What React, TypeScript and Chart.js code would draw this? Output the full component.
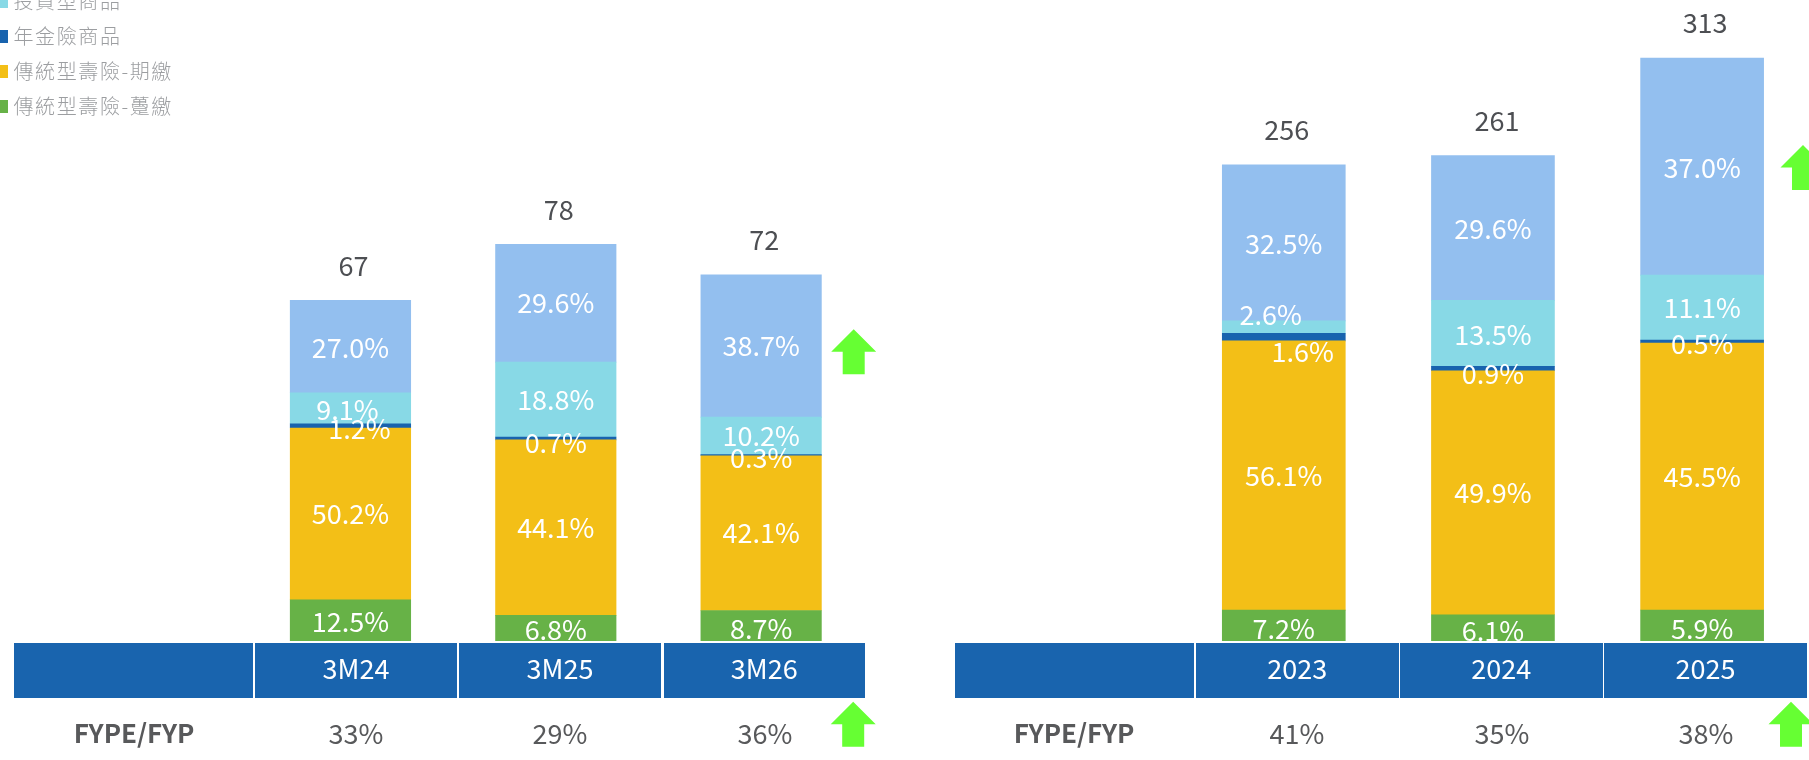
import React, { useEffect, useRef } from "react";
import { Chart, registerables } from "chart.js";

Chart.register(...registerables);

const FONT = '"Noto Sans CJK TC", "Noto Sans", sans-serif';
const CJK = '"Noto Sans CJK TC", sans-serif';

// Series names, bottom of the stack first (the top one's legend row lies above the page).
const seriesNames = ["傳統型壽險-躉繳", "傳統型壽險-期繳", "年金險商品", "投資型商品", "保障型商品"];
const seriesColors = ["#67B247", "#F3BF17", "#1863AE", "#88D9E6", "#93BFEF"];

const quarterLabels = ["3M24", "3M25", "3M26"];
const quarterTotals = [67, 78, 72];
const quarterFype = ["33%", "29%", "36%"];
const quarterSingle = [12.5, 6.8, 8.7];
const quarterRegular = [50.2, 44.1, 42.1];
const quarterAnnuity = [1.2, 0.7, 0.3];
const quarterInvest = [9.1, 18.8, 10.2];
const quarterProtect = [27.0, 29.6, 38.7];

const yearLabels = ["2023", "2024", "2025"];
const yearTotals = [256, 261, 313];
const yearFype = ["41%", "35%", "38%"];
const yearSingle = [7.2, 6.1, 5.9];
const yearRegular = [56.1, 49.9, 45.5];
const yearAnnuity = [1.6, 0.9, 0.5];
const yearInvest = [2.6, 13.5, 11.1];
const yearProtect = [32.5, 29.6, 37.0];

// Hand-placed label nudges [dx, dy] per series, per category.
const quarterNudge = [
  [[0, 1], [0, 1], [0, 2]],
  [[0, 0], [0, 0], [0, 0]],
  [[9, 3], [0, 4], [0, 3]],
  [[-3, 1], [0, 0], [0, 0]],
  [[0, 1], [0, 0], [0, 0]],
];
const yearNudge = [
  [[0, 1], [0, 1], [0, 1]],
  [[0, 0], [0, 0], [0, 0]],
  [[19, 15], [0, 5], [0, 2]],
  [[-13, -12], [0, 1], [0, 0]],
  [[0, 1], [0, 1], [0, 1]],
];

type Side = {
  labels: string[];
  totals: number[];
  series: number[][];
  nudge: number[][][];
  totalDx: number[];
  left: number;
  width: number;
  areaLeft: number;
  areaRight: number;
  base: number;
  yMax: number;
  barWidth: number;
};

const H = 760;

const quarterSide: Side = {
  labels: quarterLabels,
  totals: quarterTotals,
  series: [quarterSingle, quarterRegular, quarterAnnuity, quarterInvest, quarterProtect],
  nudge: quarterNudge,
  totalDx: [3, 3, 3],
  left: 0,
  width: 900,
  areaLeft: 247.8,
  areaRight: 863.8,
  base: 642.5,
  yMax: 125.85,
  barWidth: 120.5,
};
const yearSide: Side = {
  labels: yearLabels,
  totals: yearTotals,
  series: [yearSingle, yearRegular, yearAnnuity, yearInvest, yearProtect],
  nudge: yearNudge,
  totalDx: [3, 4, 3],
  left: 900,
  width: 909,
  areaLeft: 279.2,
  areaRight: 906.7,
  base: 644.6,
  yMax: 344,
  barWidth: 123,
};

function Bars({ side }: { side: Side }) {
  const ref = useRef<HTMLCanvasElement>(null);
  useEffect(() => {
    if (!ref.current) return;
    const labelsPlugin = {
      id: "barText",
      afterDatasetsDraw(chart: any) {
        const { ctx } = chart;
        ctx.save();
        ctx.textAlign = "center";
        ctx.textBaseline = "middle";
        ctx.font = `27px ${FONT}`;
        ctx.fillStyle = "#ffffff";
        side.series.forEach((vals, s) => {
          const meta = chart.getDatasetMeta(s);
          vals.forEach((pct, i) => {
            const el = meta.data[i];
            const [dx, dy] = side.nudge[s][i];
            const cy = (el.y + el.base) / 2;
            ctx.fillText(pct.toFixed(1) + "%", el.x + dx, cy + dy);
          });
        });
        ctx.fillStyle = "#4D4F53";
        const top = chart.getDatasetMeta(side.series.length - 1);
        side.totals.forEach((t, i) => {
          const el = top.data[i];
          ctx.fillText(String(t), el.x + side.totalDx[i], el.y - 35);
        });
        ctx.restore();
      },
    };
    const chart = new Chart(ref.current, {
      type: "bar",
      data: {
        labels: side.labels,
        datasets: side.series.map((vals, s) => ({
          label: seriesNames[s],
          data: vals.map((pct, i) => (pct * side.totals[i]) / 100),
          backgroundColor: seriesColors[s],
          borderWidth: 0,
          barThickness: side.barWidth,
        })),
      },
      options: {
        responsive: false,
        animation: false,
        layout: {
          padding: {
            left: side.areaLeft,
            right: side.width - side.areaRight,
            top: 0,
            bottom: H - side.base,
          },
        },
        plugins: { legend: { display: false }, tooltip: { enabled: false } },
        scales: {
          x: { stacked: true, display: false },
          y: { stacked: true, display: false, min: 0, max: side.yMax },
        },
      },
      plugins: [labelsPlugin],
    } as any);
    return () => chart.destroy();
  }, [side]);
  return (
    <canvas
      ref={ref}
      width={side.width}
      height={H}
      style={{ position: "absolute", left: side.left, top: 0, display: "block" }}
    />
  );
}

const cell = (x0: number, x1: number): React.CSSProperties => ({
  position: "absolute",
  left: x0,
  width: x1 - x0,
  top: 643,
  height: 55,
  background: "#1964AE",
  color: "#fff",
  font: `27px ${FONT}`,
  lineHeight: "50px",
  textAlign: "center",
});

const note = (cx: number, bold = false): React.CSSProperties => ({
  position: "absolute",
  left: cx - 100,
  width: 200,
  top: 713,
  height: 36,
  lineHeight: "36px",
  textAlign: "center",
  color: "#58595B",
  font: `${bold ? 700 : 400} ${bold ? 26 : 27}px ${FONT}`,
});

const quarterCells = [[255, 457], [459, 661], [663.5, 865]];
const yearCells = [[1196, 1398.5], [1400, 1602.5], [1604, 1807]];
const quarterNoteX = [356, 560, 765];
const yearNoteX = [1297, 1502, 1706];

const legendRows = [
  { name: seriesNames[3], color: seriesColors[3], y: 1 },
  { name: seriesNames[2], color: seriesColors[2], y: 36 },
  { name: seriesNames[1], color: seriesColors[1], y: 71 },
  { name: seriesNames[0], color: seriesColors[0], y: 106 },
];

function Arrow({ cx, tip }: { cx: number; tip: number }) {
  const pts = [
    [cx, tip],
    [cx + 22.5, tip + 22.5],
    [cx + 11, tip + 22.5],
    [cx + 11, tip + 45],
    [cx - 11, tip + 45],
    [cx - 11, tip + 22.5],
    [cx - 22.5, tip + 22.5],
  ]
    .map((p) => p.join(","))
    .join(" ");
  return <polygon points={pts} fill="#66FF33" />;
}

export default function App() {
  return (
    <div style={{ position: "absolute", left: 0, top: 0, width: 1809, height: 760, overflow: "hidden", background: "#fff" }}>
      <Bars side={quarterSide} />
      <Bars side={yearSide} />

      {/* white rule above the band: it trims the feet of the stacks and their labels */}
      <div style={{ position: "absolute", left: 0, top: 640.5, width: 1809, height: 3, background: "#fff" }} />

      {legendRows.map((r) => (
        <React.Fragment key={r.name}>
          <div style={{ position: "absolute", left: 0, top: r.y - 6, width: 8, height: 13, background: r.color }} />
          <div
            style={{
              position: "absolute",
              left: 13.5,
              top: r.y - 15,
              height: 30,
              lineHeight: "30px",
              whiteSpace: "nowrap",
              color: "#9C9EA1",
              font: `300 20px ${CJK}`,
              letterSpacing: 1.6,
            }}
          >
            {r.name}
          </div>
        </React.Fragment>
      ))}

      <div style={cell(13.5, 252.5)} />
      {quarterCells.map(([a, b], i) => (
        <div key={i} style={cell(a, b)}>{quarterLabels[i]}</div>
      ))}
      <div style={cell(955, 1194)} />
      {yearCells.map(([a, b], i) => (
        <div key={i} style={cell(a, b)}>{yearLabels[i]}</div>
      ))}

      <div style={note(134, true)}>FYPE/FYP</div>
      {quarterNoteX.map((x, i) => (
        <div key={i} style={note(x)}>{quarterFype[i]}</div>
      ))}
      <div style={note(1074, true)}>FYPE/FYP</div>
      {yearNoteX.map((x, i) => (
        <div key={i} style={note(x)}>{yearFype[i]}</div>
      ))}

      <svg width={1809} height={760} style={{ position: "absolute", left: 0, top: 0 }}>
        <Arrow cx={853.7} tip={329.3} />
        <Arrow cx={853.2} tip={701.7} />
        <Arrow cx={1791} tip={701.7} />
        <Arrow cx={1803} tip={145} />
      </svg>
    </div>
  );
}
